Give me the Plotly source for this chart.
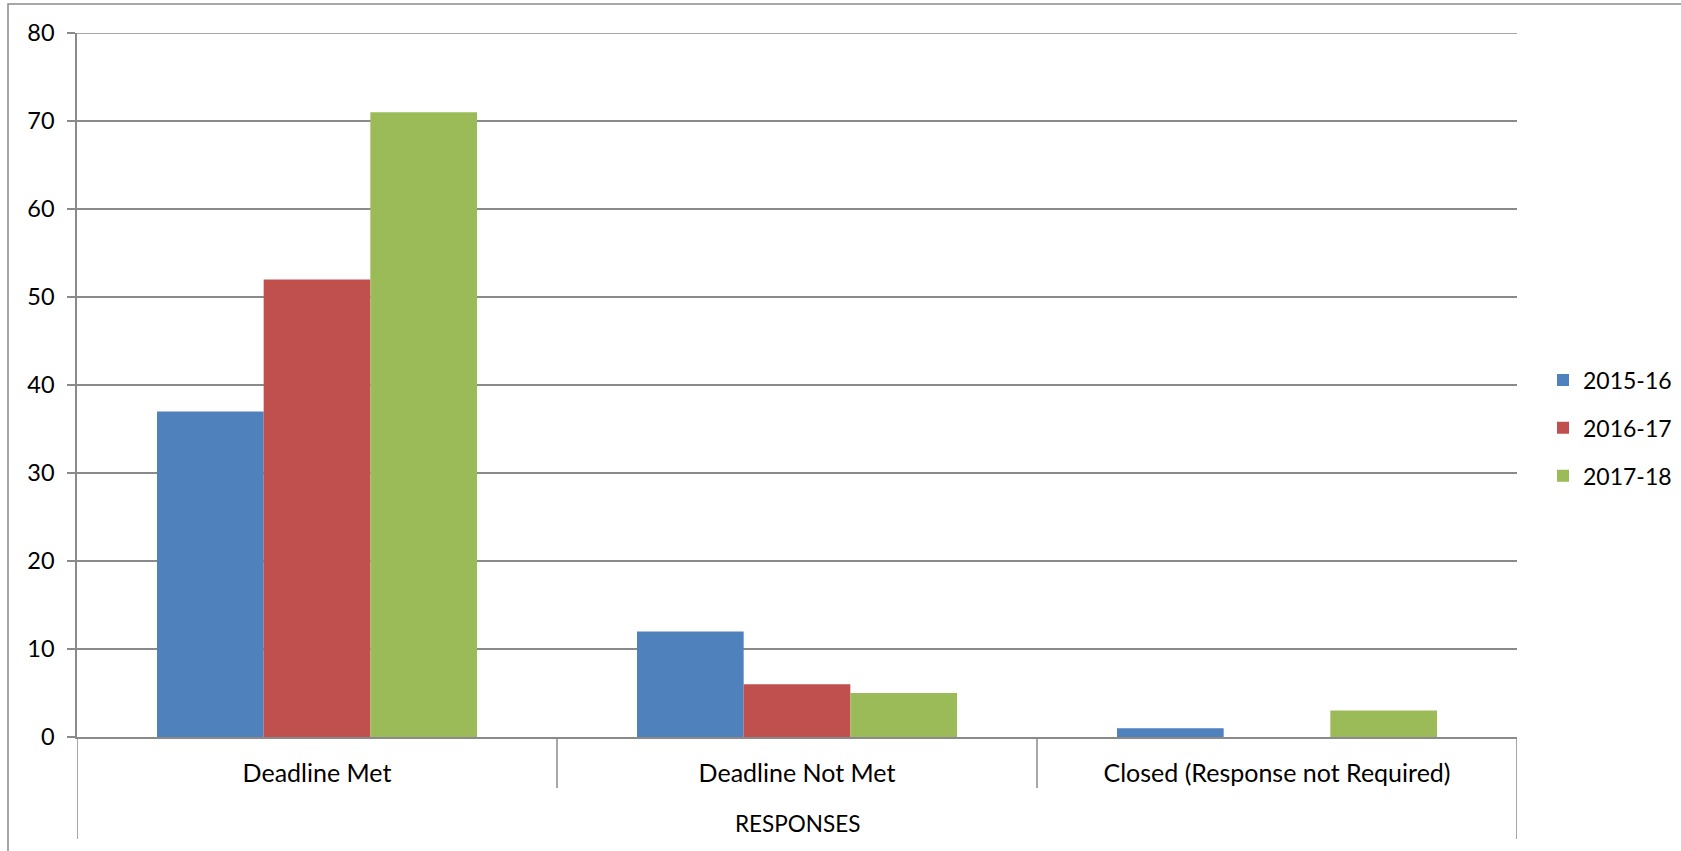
import plotly.graph_objects as go

categories = ["Deadline Met", "Deadline Not Met", "Closed (Response not Required)"]
series_names = ["2015-16", "2016-17", "2017-18"]
values_2015_16 = [37, 12, 1]
values_2016_17 = [52, 6, 0]
values_2017_18 = [71, 5, 3]
axis_title = "RESPONSES"
y_ticks = [0, 10, 20, 30, 40, 50, 60, 70, 80]

colors = ["#4F81BD", "#C0504D", "#9BBB59"]
series_values = [values_2015_16, values_2016_17, values_2017_18]

W, H = 1681, 851
L, R, T, B = 77, 1517, 33, 737
FONT = "Lato"
FS = 24
GRID = "#8a8a8a"

fig = go.Figure()
for i, (name, vals) in enumerate(zip(series_names, series_values)):
    fig.add_trace(go.Bar(
        x=list(range(len(categories))), y=vals, name=name,
        marker=dict(color=colors[i], line=dict(width=0)),
        legendgroup=name,
    ))

def px_x(p):
    return (p - L) / (R - L)

def px_y(p):
    return (B - p) / (B - T)

shapes = []
# outer chart border (top and left visible)
shapes.append(dict(type="rect", xref="paper", yref="paper",
                   x0=px_x(8), x1=px_x(1700), y0=px_y(870), y1=px_y(4),
                   line=dict(color=GRID, width=1.5), layer="below"))
# top gridline at the axis maximum
shapes.append(dict(type="line", xref="paper", yref="y", x0=0, x1=1,
                   y0=y_ticks[-1], y1=y_ticks[-1],
                   line=dict(color=GRID, width=1.5), layer="below"))
# category dividers
for xb in [0.5, 1.5]:
    shapes.append(dict(type="line", xref="x", yref="paper", x0=xb, x1=xb,
                       y0=px_y(788), y1=0, line=dict(color=GRID, width=1.5)))
for xb in [-0.5, 2.5]:
    shapes.append(dict(type="line", xref="x", yref="paper", x0=xb, x1=xb,
                       y0=px_y(839), y1=0, line=dict(color=GRID, width=1.5)))

fig.update_layout(
    width=W, height=H,
    margin=dict(l=L, r=W - R, t=T, b=H - B, pad=0, autoexpand=False),
    paper_bgcolor="white", plot_bgcolor="white",
    font=dict(family=FONT, size=FS, color="black"),
    barmode="group", bargap=1/3, bargroupgap=0,
    shapes=shapes,
    showlegend=True,
    legend=dict(x=px_x(1543), xanchor="left", y=px_y(428), yanchor="middle",
                font=dict(family=FONT, size=23), tracegroupgap=15,
                traceorder="grouped", bgcolor="rgba(0,0,0,0)"),
    annotations=[dict(text=axis_title, xref="paper", yref="paper",
                      x=0.5, y=px_y(823), xanchor="center", yanchor="middle",
                      showarrow=False, font=dict(family=FONT, size=22.5))],
)
fig.update_xaxes(
    tickmode="array", tickvals=list(range(len(categories))), ticktext=categories,
    range=[-0.5, 2.5], showline=True, linecolor=GRID, linewidth=1.5,
    showgrid=False, zeroline=False, ticks="", ticklabelstandoff=13,
    tickfont=dict(family=FONT, size=25),
)
fig.update_yaxes(
    range=[0, 80], tickmode="array", tickvals=y_ticks,
    showgrid=True, gridcolor=GRID, gridwidth=1.5,
    showline=True, linecolor=GRID, linewidth=1.5,
    ticks="outside", ticklen=8, tickcolor=GRID, tickwidth=1.5,
    ticklabelstandoff=8,
    zeroline=False, tickfont=dict(family=FONT, size=23.5),
)

fig.write_html("out.html")
